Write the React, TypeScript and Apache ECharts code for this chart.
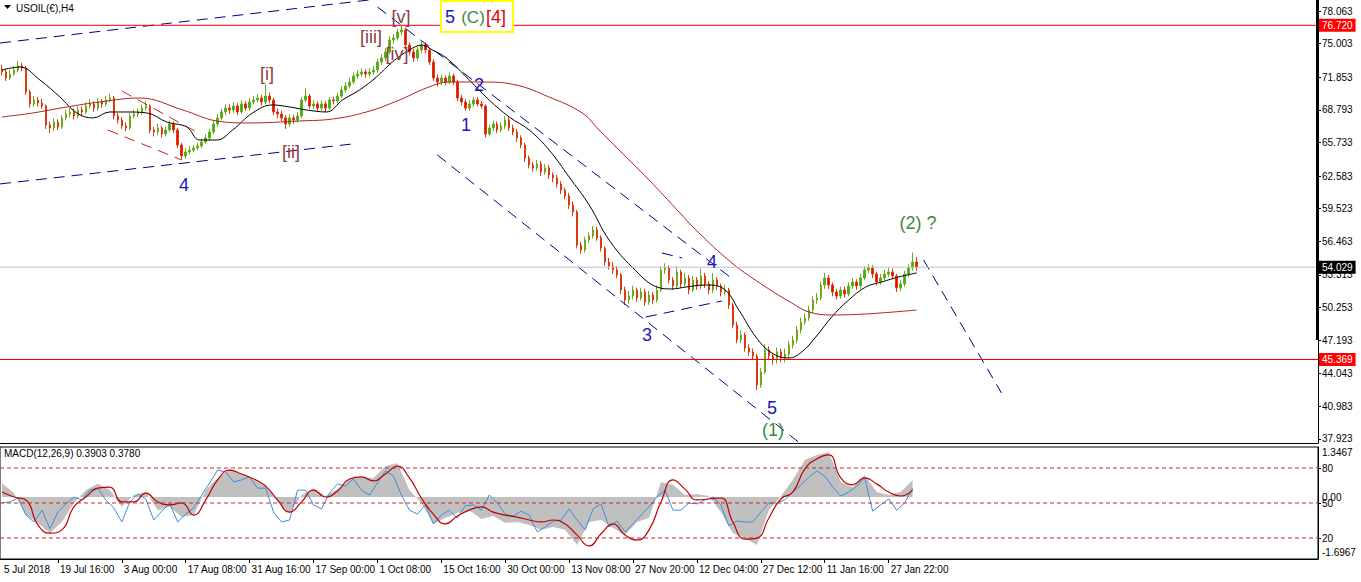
import React, { useEffect, useRef } from 'react';
import * as echarts from 'echarts';

// ---------- DATA ----------
const NUM_SLOTS = 330; // bar slots on the time axis (chart has empty space on the right)
const firstOpen = 72.6;
const closes = [
  72.34,71.78,72.15,72.53,72.91,72.72,70.47,69.34,69.71,69.43,
  69.15,67.37,67.09,67.65,67.18,68.03,68.40,68.59,68.21,68.78,
  68.59,69.15,69.34,68.96,69.53,69.34,69.71,69.90,68.21,67.84,
  67.28,67.09,68.21,68.40,68.59,68.96,69.15,66.90,66.71,67.09,
  66.53,66.90,67.46,66.90,65.50,64.46,64.84,65.02,65.21,65.40,
  65.77,66.15,66.71,67.46,68.03,68.59,68.96,68.78,69.15,68.59,
  69.34,68.96,69.53,69.71,69.90,69.53,70.09,69.71,68.59,68.40,
  68.03,67.46,68.03,67.84,68.21,69.71,70.09,69.15,69.34,68.96,
  69.34,68.96,69.71,69.62,70.09,70.65,71.03,71.40,71.97,72.15,
  72.34,72.15,72.34,72.53,73.28,73.66,74.22,75.34,75.53,76.09,
  76.28,74.87,74.22,73.66,74.41,74.87,74.41,73.28,71.78,71.40,
  71.78,71.40,71.97,71.40,69.90,69.53,68.96,69.34,69.71,69.34,
  69.15,66.53,67.09,67.46,66.90,67.28,67.84,67.09,66.71,66.15,
  65.50,64.27,63.62,63.34,63.71,62.96,63.34,62.68,62.40,61.84,
  61.27,60.71,59.87,59.21,56.11,55.64,56.58,56.96,57.52,56.77,
  55.83,54.52,54.14,53.77,53.30,51.89,50.95,51.33,51.89,51.14,
  51.70,50.77,51.42,50.95,51.89,53.77,53.96,52.83,52.27,53.58,
  52.46,53.02,51.89,52.83,52.27,53.21,52.46,51.89,52.83,52.27,
  51.70,51.89,50.48,48.61,47.20,47.67,46.45,46.08,45.70,42.98,
  44.20,46.26,45.70,45.32,46.08,45.51,45.89,46.73,47.20,48.14,
  48.89,49.27,50.01,50.95,51.14,52.36,53.02,52.36,51.70,51.33,
  51.89,51.52,52.27,52.64,52.27,53.02,53.77,53.96,53.39,52.64,
  53.02,53.39,53.58,53.21,52.08,52.46,53.39,53.96,54.52,54.03
];
const highs = [
  73.0,72.6,72.5,72.9,73.4,73.2,72.9,70.7,70.1,70.0,
  69.8,69.3,67.7,68.0,67.9,68.3,68.8,69.0,68.9,69.1,
  69.1,69.5,69.8,69.6,69.9,69.8,70.1,70.3,70.1,68.5,
  68.1,67.6,68.5,68.8,68.9,69.3,69.6,69.3,67.2,67.5,
  67.3,67.2,67.8,67.7,67.1,65.7,65.2,65.4,65.5,65.7,
  66.1,66.5,67.0,67.8,68.4,68.9,69.3,69.3,69.5,69.4,
  69.7,69.6,69.9,70.1,70.3,70.2,71.2,70.4,69.9,68.9,
  68.7,68.3,68.4,68.3,68.6,70.0,70.8,70.3,69.7,69.6,
  69.7,69.6,70.0,70.0,70.4,71.0,71.4,71.8,72.3,72.5,
  72.7,72.6,72.7,72.9,73.6,74.0,74.6,75.7,75.9,76.4,
  76.75,76.5,75.1,74.5,74.7,75.2,75.1,74.6,73.5,72.1,
  72.1,72.0,72.3,72.2,71.6,70.2,69.8,69.7,70.0,70.0,
  69.6,69.3,67.4,67.8,67.7,67.6,68.2,68.1,67.4,67.0,
  66.4,65.7,64.5,63.9,64.1,64.0,63.7,63.6,62.9,62.7,
  62.1,61.5,61.0,60.2,59.4,56.4,56.9,57.3,57.9,57.8,
  57.0,56.0,54.9,54.5,54.1,53.5,52.2,51.8,52.3,52.1,
  52.1,52.0,51.8,51.7,52.3,54.1,54.4,54.2,53.1,54.1,
  53.8,53.5,53.3,53.2,53.1,53.9,53.5,52.7,53.5,53.1,
  52.5,52.4,52.1,50.7,48.9,48.1,47.9,46.8,46.4,45.9,
  44.6,46.8,46.6,46.0,46.5,46.4,46.4,47.1,47.6,48.5,
  49.3,49.7,50.4,51.3,51.6,52.7,53.5,53.3,52.6,52.0,
  52.2,52.2,52.6,53.0,52.9,53.4,54.1,54.3,54.2,53.6,
  53.4,53.8,54.0,53.9,53.4,52.8,53.7,54.3,55.4,55.0
];
const lows = [
  72.0,71.5,71.6,71.95,72.3,72.4,70.2,69.0,69.1,69.1,
  68.9,67.0,66.6,66.8,66.9,67.0,67.8,68.1,67.9,68.0,
  68.2,68.4,68.9,68.6,68.7,69.0,69.1,69.5,67.9,67.5,
  67.0,66.8,66.9,68.0,68.1,68.3,68.7,66.6,66.3,66.4,
  66.2,66.3,66.7,66.6,65.2,64.1,64.2,64.6,64.8,65.0,
  65.2,65.6,65.9,66.5,67.2,67.8,68.3,68.4,68.5,68.3,
  68.4,68.7,68.7,69.3,69.5,69.2,69.3,69.4,68.3,68.0,
  67.7,67.0,67.2,67.5,67.6,68.0,69.5,68.9,68.9,68.6,
  68.7,68.6,68.8,69.3,69.4,69.9,70.4,70.8,71.2,71.7,
  71.9,71.8,71.9,72.1,72.3,73.0,73.4,74.0,75.0,75.3,
  75.8,74.5,73.9,73.3,73.4,74.1,74.1,73.0,71.5,71.0,
  71.1,71.1,71.2,71.1,69.6,69.2,68.7,68.7,69.1,69.1,
  68.9,66.2,66.3,66.8,66.6,66.7,67.0,66.8,66.4,65.8,
  65.2,63.9,63.3,63.0,63.1,62.6,62.7,62.3,62.0,61.5,
  60.9,60.4,59.5,58.8,55.8,55.3,55.4,56.3,56.7,56.5,
  55.5,54.2,53.8,53.4,53.0,51.5,50.5,50.6,51.0,50.8,
  50.9,50.4,50.5,50.6,50.7,51.7,53.4,52.5,51.9,52.0,
  52.1,52.2,51.5,51.7,51.9,52.0,52.1,51.5,51.6,51.9,
  51.3,51.4,50.1,48.3,46.9,46.9,46.1,45.7,45.3,42.5,
  42.7,44.0,45.3,44.9,45.0,45.1,45.1,45.5,46.4,46.9,
  47.8,48.6,49.0,49.7,50.6,50.9,52.0,52.0,51.3,51.0,
  51.1,51.2,51.3,52.0,51.9,52.0,52.8,53.5,53.0,52.3,
  52.4,52.8,53.1,52.9,51.7,51.8,52.2,53.1,53.7,53.7
];

// moving averages: [bar index, price]
const blackMA: [number, number][] = [
  [0,72.53],[4.5,72.81],[9.5,71.59],[14.5,70.0],[18.75,68.5],[22.75,68.03],[27,68.59],[31.25,68.59],
  [36.25,68.5],[41.25,67.65],[46.25,67.18],[49.5,65.96],[53.75,65.96],[57.75,66.9],[62.75,68.5],
  [67.75,69.25],[72,69.06],[76.25,68.78],[81.25,68.59],[85.25,69.71],[89.5,70.65],[93.75,71.87],
  [97.75,73.28],[102,74.41],[105.25,74.87],[107.75,74.41],[111.25,73.66],[117,71.59],[122,69.71],
  [127,68.12],[132,66.9],[137,65.02],[142,62.49],[147,59.87],[152,56.58],[157.75,54.05],[164,52.17],
  [167.75,51.99],[171.25,52.17],[176.25,52.36],[180.75,51.99],[184.5,50.01],[188.75,47.48],
  [192.75,45.98],[197,45.51],[200.25,46.08],[203.75,47.48],[207.75,49.36],[212,50.95],[216.25,52.17],
  [220.25,52.64],[224.5,53.11],[229,53.49]
];
const redMA: [number, number][] = [
  [0,68.12],[7.75,68.5],[16.25,69.06],[24.5,69.53],[34.5,69.9],[45.25,68.78],[53.75,67.75],[62,67.56],
  [74.5,67.75],[82.75,67.93],[91.25,68.59],[99.5,69.71],[106.25,70.84],[112,71.4],[120.25,71.4],
  [128.75,71.12],[137,69.99],[145.25,68.5],[149.5,66.9],[154.5,65.02],[162,62.21],[169.5,59.21],
  [173.75,57.52],[182.75,54.43],[191.25,52.17],[197.75,50.67],[202,49.83],[207.75,49.55],
  [216.25,49.64],[229,50.01]
];

// MACD panel (read every few bars)
const MACD_STEP = 3;
const macdMain = [
  0.43,0.12,-0.55,-0.79,-1.10,-0.76,-0.18,0.21,0.40,0.21,
  -0.30,0.06,0.15,-0.40,-0.30,-0.61,-0.55,0.21,0.58,0.85,
  0.70,0.52,0.37,-0.15,-0.49,0.06,0.27,0.03,0.24,0.55,
  0.61,0.58,0.94,1.03,0.21,-0.18,-0.82,-0.64,-0.49,-0.40,
  -0.67,-0.58,-0.79,-0.76,-0.85,-1.00,-0.91,-1.00,-1.46,-0.76,
  -0.70,-0.94,-1.16,-0.76,-0.64,0.46,0.37,0.06,0.09,0.03,
  -0.46,-1.10,-1.25,-1.46,-0.40,0.02,0.52,1.13,1.28,1.37,
  0.46,0.30,0.67,0.15,0.06,0.15,0.52
];
const macdSignal = [
  0.15,0.00,-0.09,-0.85,-1.10,-1.00,-0.30,0.00,0.27,0.30,
  -0.15,-0.15,0.12,-0.15,-0.24,-0.18,-0.55,-0.09,0.52,0.82,
  0.70,0.55,0.33,-0.09,-0.46,-0.15,0.21,0.00,0.18,0.55,
  0.61,0.49,0.70,0.94,0.58,-0.03,-0.52,-0.82,-0.58,-0.40,
  -0.30,-0.46,-0.55,-0.61,-0.70,-0.76,-0.70,-0.82,-1.16,-1.49,
  -1.12,-0.82,-1.16,-1.31,-1.00,-0.15,0.52,0.24,-0.09,-0.06,
  -0.03,-0.76,-1.28,-1.25,-0.64,-0.06,0.15,0.85,1.16,1.28,
  0.58,0.37,0.58,0.40,0.15,0.03,0.21
];
const OSC_STEP = 2;
const oscLine = [
  -0.18,-0.15,-0.03,-0.55,-0.76,-0.40,-0.97,-0.46,-0.21,0.00,
  -0.09,0.21,0.27,-0.09,-0.33,-0.76,-0.15,0.09,-0.06,-0.70,
  -0.43,-0.21,-0.76,-0.52,-0.33,0.06,0.43,0.82,0.76,0.46,
  0.52,0.61,0.27,0.27,-0.46,-0.76,-0.70,0.21,0.21,-0.24,
  -0.36,0.12,0.40,0.33,0.55,0.21,0.06,0.43,0.79,0.64,
  0.06,-0.40,-0.52,-0.24,-0.82,-0.55,-0.40,-0.64,-0.27,-0.24,
  -0.40,0.06,-0.18,-0.52,-0.58,-0.43,-0.55,-1.06,-0.91,-0.73,
  -0.70,-0.36,-0.70,-1.00,-0.36,-0.21,-0.91,-0.73,-1.06,-0.82,
  -0.55,-0.30,0.00,0.21,-0.40,-0.40,-0.18,-0.21,-0.09,0.00,
  -0.24,-0.88,-0.73,-0.76,-0.76,-0.46,-0.18,-0.18,-0.09,0.15,
  0.36,0.61,0.79,0.64,0.30,0.03,0.15,0.33,0.58,-0.43,
  -0.24,-0.06,-0.40,-0.18,0.27
];

const priceTicks = [78.063,75.003,71.853,68.793,65.733,62.583,59.523,56.463,53.313,50.253,47.193,44.043,40.983,37.923];
const macdTicks = [1.3467, 0, -1.6967];
const levelTicks = [80, 50, 20];
const resistance = 76.72;
const support = 45.369;
const lastPrice = 54.029;

const dateLabels = ['5 Jul 2018','19 Jul 16:00','3 Aug 00:00','17 Aug 08:00','31 Aug 16:00','17 Sep 00:00','1 Oct 08:00','15 Oct 16:00','30 Oct 00:00','13 Nov 08:00','27 Nov 20:00','12 Dec 04:00','27 Dec 12:00','11 Jan 16:00','27 Jan 22:00'];
const dateLabelIdx = [0,14,30,46,62,78,94,110,126,142,158,174,190,206,222];

// trend lines: [bar index, price] end points
const trendLines = [
  { from: [-0.5, 75.06], to: [92, 79.1], color: '#000080' },
  { from: [-0.5, 61.84], to: [87.75, 65.59], color: '#000080' },
  { from: [30, 70.56], to: [48.25, 66.81], color: '#cc2222' },
  { from: [26.5, 66.9], to: [45, 64.09], color: '#cc2222' },
  { from: [94, 78.44], to: [183.25, 52.83], color: '#000080' },
  { from: [109, 64.56], to: [199.5, 37.6], color: '#000080' },
  { from: [161.25, 49.36], to: [180.25, 50.86], color: '#000080' },
  { from: [165.25, 55.36], to: [170.25, 54.9], color: '#000080' },
  { from: [230.75, 54.7], to: [250.25, 42.23], color: '#000080' }
];

// ---------- OPTION ----------
const FONT = "'Liberation Sans', Arial, sans-serif";

function txt(text: string, x: number, y: number, fill: string, size: number, align = 'center') {
  return {
    type: 'text', x, y, z: 100,
    style: { text, fill, font: `${size}px ${FONT}`, align, verticalAlign: 'middle', textAlign: align, textVerticalAlign: 'middle' }
  };
}

function buildOption() {
  const cats = Array.from({ length: NUM_SLOTS }, (_, i) => String(i));
  const ohlc = closes.map((c, i) => [i === 0 ? firstOpen : closes[i - 1], c, lows[i], highs[i]]);
  const labelMap: Record<number, string> = {};
  dateLabelIdx.forEach((idx, k) => { labelMap[idx] = dateLabels[k]; });
  const isLabel = (i: number) => labelMap[i] !== undefined;

  const hLineSeries = (v: number, color: string, bg: string) => ({
    type: 'line', xAxisIndex: 1, yAxisIndex: 0, z: 5, showSymbol: false, clip: false,
    data: [[-0.5, v], [NUM_SLOTS - 0.5, v]],
    lineStyle: { color, width: 1, type: 'solid' },
    itemStyle: { color },
    endLabel: {
      show: true, distance: 1, formatter: () => v.toFixed(3),
      color: '#fff', backgroundColor: bg, padding: [2, 3, 1, 3], fontSize: 10, fontFamily: FONT
    }
  });

  const series: any[] = [
    {
      type: 'candlestick', xAxisIndex: 0, yAxisIndex: 0, data: ohlc, barWidth: 2,
      itemStyle: { color: '#1fc01f', color0: '#ff0000', borderColor: '#6fa81a', borderColor0: '#d83c10', borderWidth: 1 }
    },
    hLineSeries(resistance, '#ff0000', '#ff0000'),
    hLineSeries(support, '#ff0000', '#ff0000'),
    hLineSeries(lastPrice, '#c0c0c0', '#000000'),
    { type: 'line', xAxisIndex: 1, yAxisIndex: 0, data: blackMA, showSymbol: false, smooth: 0.4, lineStyle: { color: '#000', width: 1 }, z: 3 },
    { type: 'line', xAxisIndex: 1, yAxisIndex: 0, data: redMA, showSymbol: false, smooth: 0.4, lineStyle: { color: '#b22222', width: 1 }, z: 3 },
    ...trendLines.map(t => ({
      type: 'line', xAxisIndex: 1, yAxisIndex: 0, data: [t.from, t.to], showSymbol: false,
      lineStyle: { color: t.color, width: 1, type: [11, 7] }, z: 4
    })),
    {
      type: 'line', xAxisIndex: 3, yAxisIndex: 1, data: macdMain.map((v, k) => [k * MACD_STEP, v]), showSymbol: false,
      lineStyle: { width: 0, color: '#c0c0c0' }, areaStyle: { color: '#c0c0c0', opacity: 1 }, z: 2
    },
    {
      type: 'line', xAxisIndex: 3, yAxisIndex: 1, data: oscLine.map((v, k) => [k * OSC_STEP, v]), showSymbol: false,
      lineStyle: { width: 1, color: '#3d8ddb' }, z: 3
    },
    {
      type: 'line', xAxisIndex: 3, yAxisIndex: 1, data: macdSignal.map((v, k) => [k * MACD_STEP, v]), showSymbol: false, smooth: 0.5,
      lineStyle: { width: 1.2, color: '#c00000' }, z: 4
    },
    ...levelTicks.map(v => ({
      type: 'line', xAxisIndex: 3, yAxisIndex: 2, data: [[-0.5, v], [NUM_SLOTS - 0.5, v]], showSymbol: false, z: 6,
      lineStyle: { color: '#cc2a2a', width: 1, type: [4, 3] }
    }))
  ];

  const axisText = { color: '#000', fontSize: 10, fontFamily: FONT };

  return {
    animation: false,
    backgroundColor: '#ffffff',
    grid: [
      { left: 0, right: 43, top: 0, height: 443 },
      { left: 0, right: 43, top: 447, height: 112, show: true, borderColor: '#000', borderWidth: 1 }
    ],
    xAxis: [
      { type: 'category', gridIndex: 0, data: cats, boundaryGap: true, axisLine: { onZero: false, lineStyle: { color: '#000' } }, axisTick: { show: false }, axisLabel: { show: false }, splitLine: { show: false } },
      { type: 'value', gridIndex: 0, min: -0.5, max: NUM_SLOTS - 0.5, show: false, axisLine: { onZero: false } },
      {
        type: 'category', gridIndex: 1, data: cats, boundaryGap: true, position: 'bottom',
        axisLine: { onZero: false, lineStyle: { color: '#000' } },
        axisTick: { show: true, alignWithLabel: true, interval: (i: number) => isLabel(i) && i > 0, length: 4, lineStyle: { color: '#000' } },
        axisLabel: { ...axisText, interval: (i: number) => isLabel(i), formatter: (_v: string, i: number) => labelMap[i] || '', align: 'left', padding: [0, 0, 0, 2], margin: 5 },
        splitLine: { show: false }
      },
      { type: 'value', gridIndex: 1, min: -0.5, max: NUM_SLOTS - 0.5, show: false, axisLine: { onZero: false } }
    ],
    yAxis: [
      {
        type: 'value', gridIndex: 0, position: 'right', min: 37.537, max: 79.095, scale: true,
        axisLine: { show: true, onZero: false, lineStyle: { color: '#000' } },
        axisTick: { show: true, length: 3, customValues: priceTicks, lineStyle: { color: '#000' } },
        axisLabel: { ...axisText, customValues: priceTicks, formatter: (v: number) => v.toFixed(3), margin: 4 },
        splitLine: { show: false }
      },
      {
        type: 'value', gridIndex: 1, position: 'right', min: -1.887, max: 1.522, scale: true,
        axisLine: { show: true, onZero: false, lineStyle: { color: '#000' } },
        axisTick: { show: false },
        axisLabel: { ...axisText, customValues: macdTicks, formatter: (v: number) => (v === 0 ? '0.00' : v.toFixed(4)), margin: 4 },
        splitLine: { show: false }
      },
      {
        type: 'value', gridIndex: 1, position: 'right', min: 2, max: 98, scale: true, offset: 0,
        axisLine: { show: false, onZero: false },
        axisTick: { show: true, length: 3, customValues: levelTicks, lineStyle: { color: '#000' } },
        axisLabel: { ...axisText, customValues: levelTicks, formatter: (v: number) => String(v), margin: 4 },
        splitLine: { show: false }
      }
    ],
    series,
    graphic: [
      { type: 'rect', z: 50, shape: { x: 1316, y: 0, width: 3, height: 340 }, style: { fill: '#000' } },
      { type: 'polygon', z: 100, shape: { points: [[4, 5], [11, 5], [7.5, 9]] }, style: { fill: '#000' } },
      txt('USOIL(€),H4', 16, 8, '#000', 10, 'left'),
      txt('MACD(12,26,9) 0.3903 0.3780', 4, 453, '#000', 10, 'left'),
      { type: 'rect', z: 90, shape: { x: 441, y: 1, width: 72, height: 31 }, style: { fill: '#fff', stroke: '#ffff00', lineWidth: 2 } },
      txt('5', 450, 17, '#1818c0', 18),
      txt('(C)', 473, 17, '#3a8a3a', 17),
      txt('[4]', 496, 17, '#e00000', 18),
      txt('[v]', 401, 17, '#8b4040', 18),
      txt('[iii]', 371, 37, '#8b4040', 18),
      txt('[iv]', 397, 54, '#8b4040', 18),
      txt('[i]', 267, 74, '#8b4040', 18),
      txt('[ii]', 291, 152, '#8b4040', 18),
      txt('4', 184, 185, '#1818c0', 18),
      txt('2', 479, 85, '#1818c0', 18),
      txt('1', 466, 125, '#1818c0', 18),
      txt('3', 647, 335, '#1818c0', 18),
      txt('4', 712, 262, '#1818c0', 18),
      txt('5', 772, 408, '#1818c0', 18),
      txt('(1)', 773, 430, '#3a8a3a', 18),
      txt('(2) ?', 918, 223, '#3a8a3a', 18)
    ]
  };
}

export default function App() {
  const ref = useRef<HTMLDivElement>(null);
  useEffect(() => {
    const chart = echarts.init(ref.current as HTMLDivElement, null, { renderer: 'svg' });
    chart.setOption(buildOption() as any);
    return () => chart.dispose();
  }, []);
  return (
    <div
      ref={ref}
      style={{ position: 'fixed', left: 0, top: 0, width: 1361, height: 582, background: '#fff' }}
    />
  );
}
